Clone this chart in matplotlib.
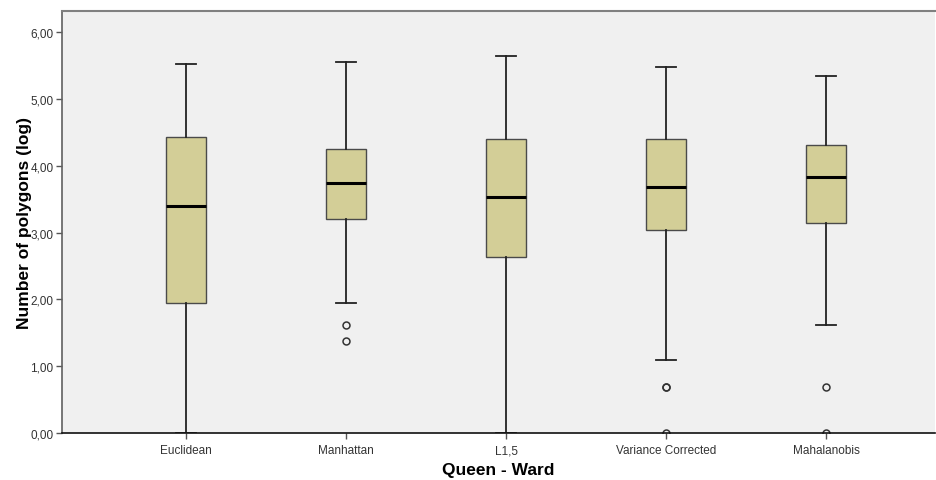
import matplotlib
matplotlib.use("Agg")
import matplotlib.pyplot as plt
from matplotlib.ticker import FixedLocator, FuncFormatter

# Distance measures compared (Queen contiguity, Ward linkage)
categories = ["Euclidean", "Manhattan", "L1,5", "Variance Corrected", "Mahalanobis"]

# Five-number summaries of log(number of polygons)
whisker_low = [0.00, 1.95, 0.00, 1.10, 1.61]
q1 = [1.94, 3.20, 2.64, 3.04, 3.14]
median = [3.40, 3.75, 3.54, 3.68, 3.83]
q3 = [4.43, 4.26, 4.40, 4.40, 4.31]
whisker_high = [5.53, 5.55, 5.64, 5.48, 5.35]
outliers = [[], [1.61, 1.38], [], [0.69, 0.69, 0.00], [0.69, 0.00]]

y_ticks = [0, 1, 2, 3, 4, 5, 6]

plt.rcParams["font.family"] = ["Liberation Sans", "DejaVu Sans"]

fig = plt.figure(figsize=(9.36, 4.81), dpi=100)
ax = fig.add_axes([62 / 936, 1 - 434 / 481, (935 - 62) / 936, (434 - 12) / 481])
ax.set_facecolor("#f0f0f0")

stats = []
for i, name in enumerate(categories):
    stats.append(dict(label=name, whislo=whisker_low[i], q1=q1[i], med=median[i],
                      q3=q3[i], whishi=whisker_high[i], fliers=outliers[i]))

positions = list(range(len(categories)))
ax.bxp(stats, positions=positions, widths=0.25, patch_artist=True,
       showfliers=True,
       boxprops=dict(facecolor="#d3ce97", edgecolor="#4a4a4a", linewidth=1.0),
       medianprops=dict(color="black", linewidth=2.2),
       whiskerprops=dict(color="#222222", linewidth=1.3),
       capprops=dict(color="#222222", linewidth=1.3),
       capwidths=0.125,
       flierprops=dict(marker="o", markersize=5, markerfacecolor="none",
                       markeredgecolor="#333333", markeredgewidth=1.1))

ax.set_xlim(-0.775, 4.68)
ax.set_ylim(0, 6.32)

ax.yaxis.set_major_locator(FixedLocator(y_ticks))
ax.yaxis.set_major_formatter(FuncFormatter(lambda v, p: f"{v:.2f}".replace(".", ",")))
ax.set_xticks(positions)
ax.set_xticklabels(categories)

ax.tick_params(axis="both", direction="out", length=4, width=1, color="#555555",
               labelsize=8.5, labelcolor="#333333", pad=2)
ax.tick_params(axis="x", pad=4)

ax.spines["right"].set_visible(False)
ax.spines["top"].set_color("#808080")
ax.spines["top"].set_linewidth(1.5)
ax.spines["left"].set_color("#606060")
ax.spines["left"].set_linewidth(1.2)
ax.spines["bottom"].set_color("#111111")
ax.spines["bottom"].set_linewidth(1.2)

ax.set_ylabel("Number of polygons (log)", fontsize=12.5, fontweight="bold", labelpad=-1)
ax.set_xlabel("Queen - Ward", fontsize=12.5, fontweight="bold", labelpad=4)

fig.savefig("out.png", dpi=100, facecolor="white")
